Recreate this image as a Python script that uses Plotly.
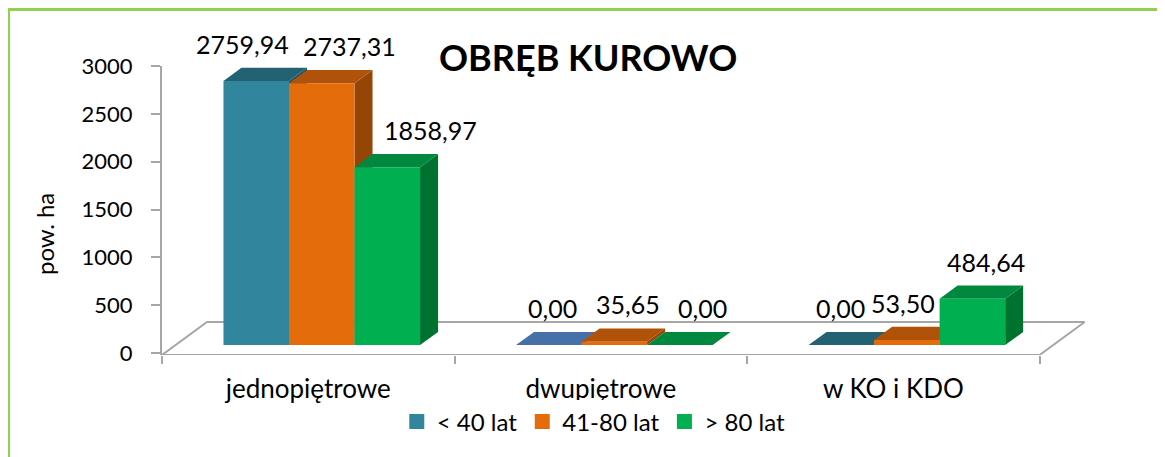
import plotly.graph_objects as go

# ---------------- data ----------------
categories = ["jednopiętrowe", "dwupiętrowe", "w KO i KDO"]
series_names = ["< 40 lat", "41-80 lat", "> 80 lat"]
values_lt40 = [2759.94, 0.00, 0.00]
values_41_80 = [2737.31, 35.65, 53.50]
values_gt80 = [1858.97, 0.00, 484.64]
y_ticks = [0, 500, 1000, 1500, 2000, 2500, 3000]
title_text = "OBRĘB KUROWO"
y_title = "pow. ha"

series_values = [values_lt40, values_41_80, values_gt80]

# ---------------- style ----------------
FONT = "Lato"
W, H = 1165, 457          # browser window
OFF = 8                   # default page margin of the html body
FW, FH = W - OFF, H - OFF  # figure size
X0, X1 = -0.5, 2.72
Y0, Y1 = -21, 3000
L_PX, T_PX, B_PX = 162, 66, 355   # page pixel positions of the plot area
XS = 292.7                        # px per category unit
plot_w = (X1 - X0) * XS
R_PX = FW - (L_PX - OFF) - plot_w
YS = (B_PX - T_PX) / (Y1 - Y0)    # px per value unit

FLOOR_DX = 45 / XS
FLOOR_DY = 33 / YS
BAR_W = 0.224
BAR_FRONT, BAR_BACK = 0.3, 0.7
AXIS_GRAY = "#A6A6A6"

face_colors = [
    dict(front="#31859C", top="#236272", side="#1D5563"),
    dict(front="#E46C0A", top="#B0520A", side="#954506"),
    dict(front="#00B050", top="#00883E", side="#00722F"),
]
# point-level colour override (series index, category index)
point_override = {(0, 1): dict(front="#4F81BD", top="#4870A8", side="#3A5F8F")}
# data label horizontal nudges in px (series index, category index)
label_nudge = {(0, 0): -23, (1, 0): 19, (2, 0): 34,
               (0, 1): -5, (1, 1): 5, (2, 1): 14,
               (0, 2): -10, (1, 2): -13, (2, 2): 5}


def px2paper_x(px):
    return (px - L_PX) / plot_w


def px2paper_y(py):
    return (B_PX - py) / (B_PX - T_PX)


fig = go.Figure()

# floor outline
fx = [X0, X0 + 3, X0 + 3 + FLOOR_DX, X0 + FLOOR_DX, X0]
fy = [Y0, Y0, Y0 + FLOOR_DY, Y0 + FLOOR_DY, Y0]
fig.add_trace(go.Scatter(x=fx, y=fy, mode="lines",
                         line=dict(color=AXIS_GRAY, width=2),
                         hoverinfo="skip", showlegend=False))

annotations = []
n_series = len(series_values)
for ci, cat in enumerate(categories):
    for si in range(n_series):
        v = series_values[si][ci]
        col = point_override.get((si, ci), face_colors[si])
        fdx, fdy = BAR_FRONT * FLOOR_DX, BAR_FRONT * FLOOR_DY
        ddx, ddy = (BAR_BACK - BAR_FRONT) * FLOOR_DX, (BAR_BACK - BAR_FRONT) * FLOOR_DY
        xl = ci + fdx + (si - n_series / 2) * BAR_W
        xr = xl + BAR_W
        yb = Y0 + fdy
        yt = yb + v
        # side face
        fig.add_trace(go.Scatter(
            x=[xr, xr + ddx, xr + ddx, xr, xr], y=[yb, yb + ddy, yt + ddy, yt, yb],
            fill="toself", fillcolor=col["side"], mode="lines", line=dict(width=0),
            hoverinfo="skip", showlegend=False))
        # top face
        fig.add_trace(go.Scatter(
            x=[xl, xr, xr + ddx, xl + ddx, xl], y=[yt, yt, yt + ddy, yt + ddy, yt],
            fill="toself", fillcolor=col["top"], mode="lines", line=dict(width=0),
            hoverinfo="skip", showlegend=False))
        # front face
        fig.add_trace(go.Scatter(
            x=[xl, xr, xr, xl, xl], y=[yb, yb, yt, yt, yb],
            fill="toself", fillcolor=col["front"], mode="lines", line=dict(width=0),
            hoverinfo="skip", showlegend=False))
        annotations.append(dict(
            x=(xl + xr) / 2 + ddx / 2, y=yt + ddy, xref="x", yref="y",
            text=f"{v:.2f}".replace(".", ","), showarrow=False,
            yanchor="bottom", yshift=7, xshift=label_nudge.get((si, ci), 0),
            font=dict(family=FONT, size=25, color="black")))

# legend entries
for si, name in enumerate(series_names):
    fig.add_trace(go.Scatter(x=[None], y=[None], mode="markers", name=name,
                             marker=dict(symbol="square", size=15,
                                         color=face_colors[si]["front"])))

annotations.append(dict(x=px2paper_x(588), y=px2paper_y(57), xref="paper", yref="paper",
                        text=f"<b>{title_text}</b>", showarrow=False,
                        xanchor="center", yanchor="middle",
                        font=dict(family=FONT, size=36, color="black")))
annotations.append(dict(x=px2paper_x(44), y=px2paper_y(234), xref="paper", yref="paper",
                        text=y_title, textangle=-90, showarrow=False,
                        xanchor="center", yanchor="middle",
                        font=dict(family=FONT, size=24, color="black")))

green = "#92D050"
shapes = [
    dict(type="rect", xref="paper", yref="paper", x0=px2paper_x(5), x1=px2paper_x(W + 20),
         y0=px2paper_y(4), y1=px2paper_y(11), fillcolor=green, line=dict(width=0), layer="below"),
    dict(type="rect", xref="paper", yref="paper", x0=px2paper_x(5), x1=px2paper_x(10),
         y0=px2paper_y(4), y1=px2paper_y(H + 20), fillcolor=green, line=dict(width=0), layer="below"),
]

fig.update_layout(
    width=FW, height=FH,
    margin=dict(l=L_PX - OFF, r=R_PX, t=T_PX - OFF, b=FH - (B_PX - OFF), pad=0),
    paper_bgcolor="white", plot_bgcolor="white",
    font=dict(family=FONT, size=22, color="black"),
    showlegend=True,
    legend=dict(orientation="h", x=px2paper_x(594), xanchor="center",
                y=px2paper_y(422), yanchor="middle",
                font=dict(family=FONT, size=24, color="black"),
                itemwidth=30, tracegroupgap=0),
    annotations=annotations,
    shapes=shapes,
    xaxis=dict(range=[X0, X1], tickvals=[0, 1, 2], ticktext=categories,
               ticks="", showline=False, showgrid=False, zeroline=False,
               tickfont=dict(family=FONT, size=26, color="black"),
               ticklabelstandoff=16,
               minor=dict(tickvals=[-0.5, 0.5, 1.5, 2.5], ticks="outside", ticklen=8,
                          tickwidth=2, tickcolor=AXIS_GRAY, showgrid=False)),
    yaxis=dict(range=[Y0, Y1], tickvals=y_ticks, showline=True, linecolor=AXIS_GRAY,
               linewidth=2, ticks="outside", ticklen=9, tickwidth=2, tickcolor=AXIS_GRAY,
               showgrid=False, zeroline=False,
               tickfont=dict(family=FONT, size=22, color="black"),
               ticklabelstandoff=14),
)

fig.write_html("out.html")
